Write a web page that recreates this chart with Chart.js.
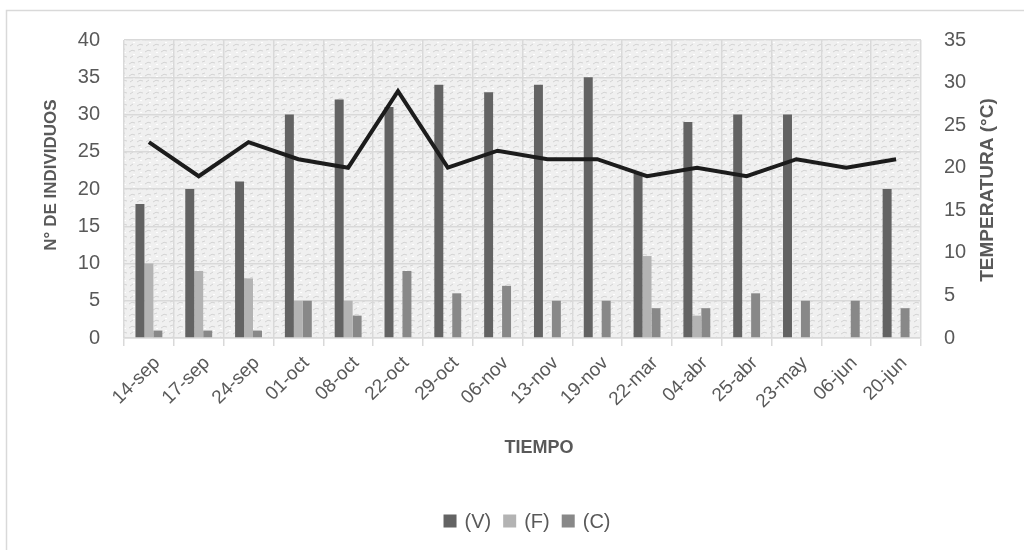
<!DOCTYPE html>
<html>
<head>
<meta charset="utf-8">
<script src="https://cdn.jsdelivr.net/npm/chart.js@4"></script>
<style>
  html, body { margin: 0; padding: 0; background: #ffffff; }
  #wrap { position: relative; width: 1024px; height: 550px; }
</style>
</head>
<body>
<div id="wrap"><canvas id="chart" width="1024" height="550"></canvas></div>
<script>
// Sampling dates
const categories = ['14-sep', '17-sep', '24-sep', '01-oct', '08-oct', '22-oct', '29-oct', '06-nov',
                    '13-nov', '19-nov', '22-mar', '04-abr', '25-abr', '23-may', '06-jun', '20-jun'];
// Number of individuals per group
const valuesV = [18, 20, 21, 30, 32, 31, 34, 33, 34, 35, 22, 29, 30, 30, 0, 20];
const valuesF = [10, 9, 8, 5, 5, 0, 0, 0, 0, 0, 11, 3, 0, 0, 0, 0];
const valuesC = [1, 1, 1, 5, 3, 9, 6, 7, 5, 5, 4, 4, 6, 5, 5, 4];
// Temperature (°C)
const temperature = [23, 19, 23, 21, 20, 29, 20, 22, 21, 21, 19, 20, 19, 21, 20, 21];
// Axis tick settings
const leftTicks = { min: 0, max: 40, step: 5 };
const rightTicks = { min: 0, max: 35, step: 5 };

const TEXT = '#595959';
const GRID = '#d9d9d9';
const FONT = '"Liberation Sans", Arial, sans-serif';

// Light textured fill for the plot background
function makeTexture() {
  const c = document.createElement('canvas');
  c.width = 16; c.height = 12;
  const g = c.getContext('2d');
  g.fillStyle = '#f0f0f0';
  g.fillRect(0, 0, 16, 12);
  g.strokeStyle = '#d4d4d4';
  g.lineWidth = 1;
  g.beginPath();
  g.moveTo(1, 4); g.quadraticCurveTo(4, 1, 7, 3);
  g.moveTo(9, 10); g.quadraticCurveTo(12, 7, 15, 9);
  g.moveTo(10, 2); g.lineTo(13, 1);
  g.moveTo(2, 10); g.lineTo(5, 8);
  g.stroke();
  g.fillStyle = '#ffffff';
  g.fillRect(5, 6, 2, 1);
  g.fillRect(12, 4, 2, 1);
  return c;
}

const framePlugin = {
  id: 'frame',
  beforeDraw(chart) {
    const { ctx, chartArea: a } = chart;
    ctx.save();
    // outer frame
    ctx.strokeStyle = GRID;
    ctx.lineWidth = 1.5;
    ctx.beginPath();
    ctx.moveTo(6.5, 560);
    ctx.lineTo(6.5, 10.5);
    ctx.lineTo(1030, 10.5);
    ctx.stroke();
    // textured plot area
    ctx.fillStyle = ctx.createPattern(makeTexture(), 'repeat');
    ctx.fillRect(a.left, a.top, a.right - a.left, a.bottom - a.top);
    ctx.restore();
  },
  afterDraw(chart) {
    const { ctx } = chart;
    ctx.save();
    ctx.fillStyle = TEXT;
    ctx.textAlign = 'center';
    ctx.textBaseline = 'middle';
    // axis titles
    ctx.font = 'bold 17px ' + FONT;
    ctx.save(); ctx.translate(51, 175); ctx.rotate(-Math.PI / 2);
    ctx.fillText('N° DE INDIVIDUOS', 0, 0); ctx.restore();
    ctx.font = 'bold 19px ' + FONT;
    ctx.save(); ctx.translate(988, 190); ctx.rotate(-Math.PI / 2);
    ctx.fillText('TEMPERATURA (°C)', 0, 0); ctx.restore();
    ctx.font = 'bold 18px ' + FONT;
    ctx.fillText('TIEMPO', 539, 448);
    // legend for the bar series
    ctx.font = '20px ' + FONT;
    ctx.textAlign = 'left';
    const bars = chart.data.datasets.filter(d => d.type === 'bar');
    const box = 13, gap = 8, spacing = 12;
    const widths = bars.map(d => box + gap + ctx.measureText(d.label).width);
    const total = widths.reduce((s, w) => s + w, 0) + spacing * (bars.length - 1);
    let x = 527 - total / 2;
    const y = 521;
    bars.forEach((d, i) => {
      ctx.fillStyle = d.backgroundColor;
      ctx.fillRect(x, y - box / 2, box, box);
      ctx.fillStyle = TEXT;
      ctx.fillText(d.label, x + box + gap, y + 1);
      x += widths[i] + spacing;
    });
    ctx.restore();
  }
};

new Chart(document.getElementById('chart'), {
  data: {
    labels: categories,
    datasets: [
      { type: 'line', label: 'Temperatura', data: temperature, yAxisID: 'y1', order: 0,
        borderColor: '#1c1c1c', borderWidth: 4, pointRadius: 0, tension: 0, fill: false },
      { type: 'bar', label: '(V)', data: valuesV, yAxisID: 'y', order: 1, backgroundColor: '#636363' },
      { type: 'bar', label: '(F)', data: valuesF, yAxisID: 'y', order: 1, backgroundColor: '#b3b3b3' },
      { type: 'bar', label: '(C)', data: valuesC, yAxisID: 'y', order: 1, backgroundColor: '#888888' }
    ]
  },
  options: {
    responsive: false,
    animation: false,
    devicePixelRatio: 1,
    datasets: { bar: { categoryPercentage: 0.54, barPercentage: 1.0 } },
    layout: { padding: { left: 0, right: 0, top: 40, bottom: 50 } },
    plugins: { legend: { display: false }, tooltip: { enabled: false } },
    scales: {
      x: {
        type: 'category',
        offset: true,
        grid: { offset: true, color: GRID, lineWidth: 1.5, tickLength: 8, drawTicks: true },
        border: { color: GRID, width: 1.5 },
        ticks: { color: TEXT, font: { family: FONT, size: 19 }, minRotation: 45, maxRotation: 45,
                 padding: 6, labelOffset: 8 },
        afterFit(s) { s.height = 162; }
      },
      y: {
        position: 'left',
        min: leftTicks.min, max: leftTicks.max,
        grid: { color: GRID, lineWidth: 1.5, drawTicks: false },
        border: { display: false },
        ticks: { stepSize: leftTicks.step, color: TEXT, font: { family: FONT, size: 20 }, padding: 24 },
        afterFit(s) { s.width = 124; }
      },
      y1: {
        position: 'right',
        min: rightTicks.min, max: rightTicks.max,
        grid: { display: false, drawTicks: false },
        border: { display: false },
        ticks: { stepSize: rightTicks.step, color: TEXT, font: { family: FONT, size: 20 }, padding: 23 },
        afterFit(s) { s.width = 103; }
      }
    }
  },
  plugins: [framePlugin]
});
</script>
</body>
</html>
